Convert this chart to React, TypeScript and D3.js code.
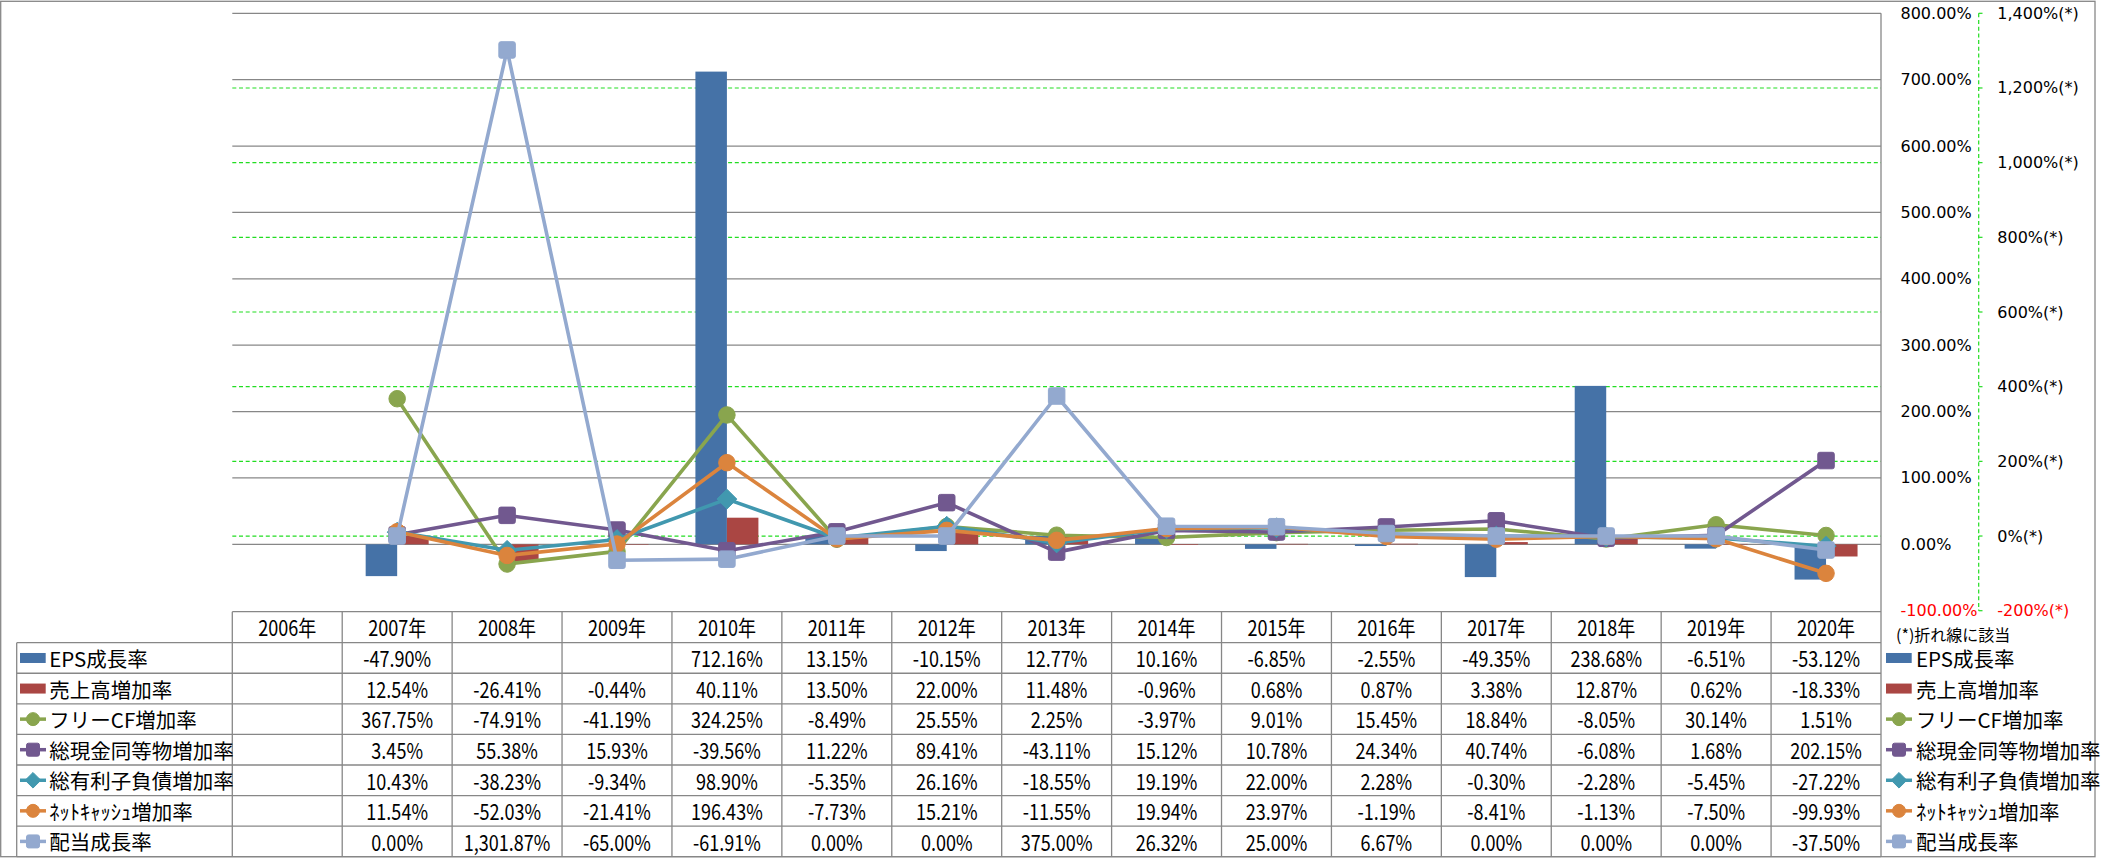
import React from 'react';
import * as d3 from 'd3';

const YEARS = ['2006年', '2007年', '2008年', '2009年', '2010年', '2011年', '2012年', '2013年', '2014年', '2015年', '2016年', '2017年', '2018年', '2019年', '2020年'];

const EPS = [null, -47.90, null, null, 712.16, 13.15, -10.15, 12.77, 10.16, -6.85, -2.55, -49.35, 238.68, -6.51, -53.12];
const SALES = [null, 12.54, -26.41, -0.44, 40.11, 13.50, 22.00, 11.48, -0.96, 0.68, 0.87, 3.38, 12.87, 0.62, -18.33];
const FCF = [null, 367.75, -74.91, -41.19, 324.25, -8.49, 25.55, 2.25, -3.97, 9.01, 15.45, 18.84, -8.05, 30.14, 1.51];
const CASH = [null, 3.45, 55.38, 15.93, -39.56, 11.22, 89.41, -43.11, 15.12, 10.78, 24.34, 40.74, -6.08, 1.68, 202.15];
const DEBT = [null, 10.43, -38.23, -9.34, 98.90, -5.35, 26.16, -18.55, 19.19, 22.00, 2.28, -0.30, -2.28, -5.45, -27.22];
const NETCASH = [null, 11.54, -52.03, -21.41, 196.43, -7.73, 15.21, -11.55, 19.94, 23.97, -1.19, -8.41, -1.13, -7.50, -99.93];
const DIVIDEND = [null, 0.00, 1301.87, -65.00, -61.91, 0.00, 0.00, 375.00, 26.32, 25.00, 6.67, 0.00, 0.00, 0.00, -37.50];

const LEFT_TICKS = [-100, 0, 100, 200, 300, 400, 500, 600, 700, 800];
const RIGHT_TICKS = [-200, 0, 200, 400, 600, 800, 1000, 1200, 1400];
const AXIS_NOTE = '(*)折れ線に該当';

type Series = { name: string; values: (number | null)[]; color: string; kind: 'bar' | 'line'; marker?: 'circle' | 'square' | 'diamond' };

const SERIES: Series[] = [
  { name: 'EPS成長率', values: EPS, color: '#4572A7', kind: 'bar' },
  { name: '売上高増加率', values: SALES, color: '#AA4643', kind: 'bar' },
  { name: 'フリーCF増加率', values: FCF, color: '#89A54E', kind: 'line', marker: 'circle' },
  { name: '総現金同等物増加率', values: CASH, color: '#71588F', kind: 'line', marker: 'square' },
  { name: '総有利子負債増加率', values: DEBT, color: '#4198AF', kind: 'line', marker: 'diamond' },
  { name: 'ﾈｯﾄｷｬｯｼｭ増加率', values: NETCASH, color: '#DB843D', kind: 'line', marker: 'circle' },
  { name: '配当成長率', values: DIVIDEND, color: '#93A9CF', kind: 'line', marker: 'square' },
];

const W = 2101;
const H = 858;
const PL = 232.3;
const PR = 1881;
const PT = 13.3;
const PB = 610.7;
const TABLE_TOP = 611.7;
const HEADER_BOTTOM = 642.7;
const TABLE_BOTTOM = 856.7;
const TABLE_LEFT = 16.7;
const GRID = '#878787';
const CJK = '"Noto Sans CJK JP", "Noto Sans", sans-serif';
const AXISFONT = '"DejaVu Sans", Verdana, sans-serif';

const locale = d3.formatLocale({ decimal: '.', thousands: ',', grouping: [3], currency: ['', ''], minus: '-' });
const fmtVal = locale.format(',.2f');
const fmtInt = locale.format(',');

function Marker({ kind, x, y, color, s }: { kind: string; x: number; y: number; color: string; s: number }) {
  const h = s / 2;
  if (kind === 'circle') return <circle cx={x} cy={y} r={h} fill={color} stroke={color} strokeWidth={1} />;
  if (kind === 'square') return <rect x={x - h} y={y - h} width={s} height={s} rx={2} fill={color} stroke={color} strokeWidth={1} />;
  const d = h * 1.2;
  return <path d={`M${x},${y - d}L${x + d},${y}L${x},${y + d}L${x - d},${y}Z`} fill={color} stroke={color} strokeWidth={1} />;
}

function LegendKey({ s, x, y }: { s: Series; x: number; y: number }) {
  if (s.kind === 'bar') return <rect x={x} y={y - 5} width={25.7} height={10} fill={s.color} />;
  return (
    <g>
      <line x1={x} x2={x + 26} y1={y} y2={y} stroke={s.color} strokeWidth={3.5} />
      <Marker kind={s.marker!} x={x + 13} y={y} color={s.color} s={13} />
    </g>
  );
}

export default function App() {
  const x = d3.scaleBand<string>().domain(YEARS).range([PL, PR]).padding(0);
  const yL = d3.scaleLinear().domain([-100, 800]).range([PB, PT]);
  const yR = d3.scaleLinear().domain([-200, 1400]).range([PB, PT]);
  const bw = x.bandwidth();
  const barW = 31.5;
  const rowH = (TABLE_BOTTOM - HEADER_BOTTOM) / SERIES.length;
  const cx = (i: number) => (x(YEARS[i]) as number) + bw / 2;

  const bars = SERIES.filter((s) => s.kind === 'bar');
  const lines = SERIES.filter((s) => s.kind === 'line');

  const lineGen = d3
    .line<number | null>()
    .defined((d) => d !== null)
    .x((_, i) => cx(i))
    .y((d) => yR(d as number));

  return (
    <svg width={W} height={H} style={{ position: 'absolute', left: 0, top: 0, display: 'block', background: '#fff' }}>
      <rect x={0} y={0} width={W} height={H} fill="#fff" />
      <rect x={0.7} y={1.3} width={2094.3} height={855.4} fill="none" stroke={GRID} strokeWidth={1.3} />

      {LEFT_TICKS.filter((t) => t > -100).map((t) => (
        <line key={'g' + t} x1={PL} x2={PR} y1={yL(t)} y2={yL(t)} stroke={GRID} strokeWidth={1.3} />
      ))}
      {RIGHT_TICKS.filter((t) => t > -200 && t < 1400).map((t) => (
        <line key={'s' + t} x1={PL} x2={PR} y1={yR(t)} y2={yR(t)} stroke="#22DD22" strokeWidth={1.2} strokeDasharray="4,2.7" />
      ))}

      {bars.map((s, si) =>
        s.values.map((v, i) => {
          if (v === null) return null;
          const x0 = cx(i) - barW + si * barW;
          const y0 = yL(Math.max(0, v));
          const y1 = yL(Math.min(0, v));
          return <rect key={s.name + i} x={x0} y={y0} width={barW} height={Math.max(0.5, y1 - y0)} fill={s.color} />;
        })
      )}

      {lines.map((s) => (
        <g key={s.name}>
          <path d={lineGen(s.values) || ''} fill="none" stroke={s.color} strokeWidth={3.6} strokeLinejoin="round" />
          {s.values.map((v, i) => (v === null ? null : <Marker key={i} kind={s.marker!} x={cx(i)} y={yR(v)} color={s.color} s={16.5} />))}
        </g>
      ))}

      <line x1={PR} x2={PR} y1={PT} y2={TABLE_BOTTOM} stroke={GRID} strokeWidth={1.3} />
      {LEFT_TICKS.map((t) => (
        <text key={'l' + t} x={1900.5} y={yL(t)} dominantBaseline="central" fontFamily={AXISFONT} fontSize={16} fill={t < 0 ? '#FF0000' : '#000'}>
          {fmtVal(t) + '%'}
        </text>
      ))}

      <line x1={1978.7} x2={1978.7} y1={PT} y2={PB} stroke="#22DD22" strokeWidth={1.2} strokeDasharray="4,2.7" />
      {RIGHT_TICKS.map((t) => (
        <g key={'r' + t}>
          <line x1={1978.7} x2={1982.5} y1={yR(t)} y2={yR(t)} stroke="#22DD22" strokeWidth={1.2} />
          <text x={1997.3} y={yR(t)} dominantBaseline="central" fontFamily={AXISFONT} fontSize={16} fill={t < 0 ? '#FF0000' : '#000'}>
            {fmtInt(t) + '%(*)'}
          </text>
        </g>
      ))}
      <text x={1896} y={634} dominantBaseline="central" fontFamily={CJK} fontSize={16} fill="#000">
        {AXIS_NOTE}
      </text>

      <g stroke={GRID} strokeWidth={1.3}>
        <line x1={PL} x2={PR} y1={TABLE_TOP} y2={TABLE_TOP} />
        {SERIES.map((_, r) => (
          <line key={'h' + r} x1={TABLE_LEFT} x2={PR} y1={HEADER_BOTTOM + r * rowH} y2={HEADER_BOTTOM + r * rowH} />
        ))}
        <line x1={TABLE_LEFT} x2={PR} y1={TABLE_BOTTOM} y2={TABLE_BOTTOM} />
        <line x1={TABLE_LEFT} x2={TABLE_LEFT} y1={HEADER_BOTTOM} y2={TABLE_BOTTOM} />
        {YEARS.map((yr) => (
          <line key={'v' + yr} x1={x(yr) as number} x2={x(yr) as number} y1={TABLE_TOP} y2={TABLE_BOTTOM} />
        ))}
      </g>
      {YEARS.map((yr, i) => (
        <text key={'y' + yr} transform={`translate(${cx(i)},${(TABLE_TOP + HEADER_BOTTOM) / 2}) scale(0.82,1)`} textAnchor="middle" dominantBaseline="central" fontFamily={CJK} fontSize={22} fill="#000">
          {yr}
        </text>
      ))}
      {SERIES.map((s, r) => {
        const yc = HEADER_BOTTOM + (r + 0.5) * rowH;
        return (
          <g key={'row' + s.name}>
            <LegendKey s={s} x={20} y={yc} />
            <text x={49.3} y={yc} dominantBaseline="central" fontFamily={CJK} fontSize={20.5} fill="#000">
              {s.name}
            </text>
            {s.values.map((v, i) =>
              v === null ? null : (
                <text key={i} transform={`translate(${cx(i)},${yc}) scale(0.82,1)`} textAnchor="middle" dominantBaseline="central" fontFamily={CJK} fontSize={22} fill="#000">
                  {fmtVal(v) + '%'}
                </text>
              )
            )}
            <LegendKey s={s} x={1886} y={yc} />
            <text x={1916} y={yc} dominantBaseline="central" fontFamily={CJK} fontSize={20.5} fill="#000">
              {s.name}
            </text>
          </g>
        );
      })}
    </svg>
  );
}
